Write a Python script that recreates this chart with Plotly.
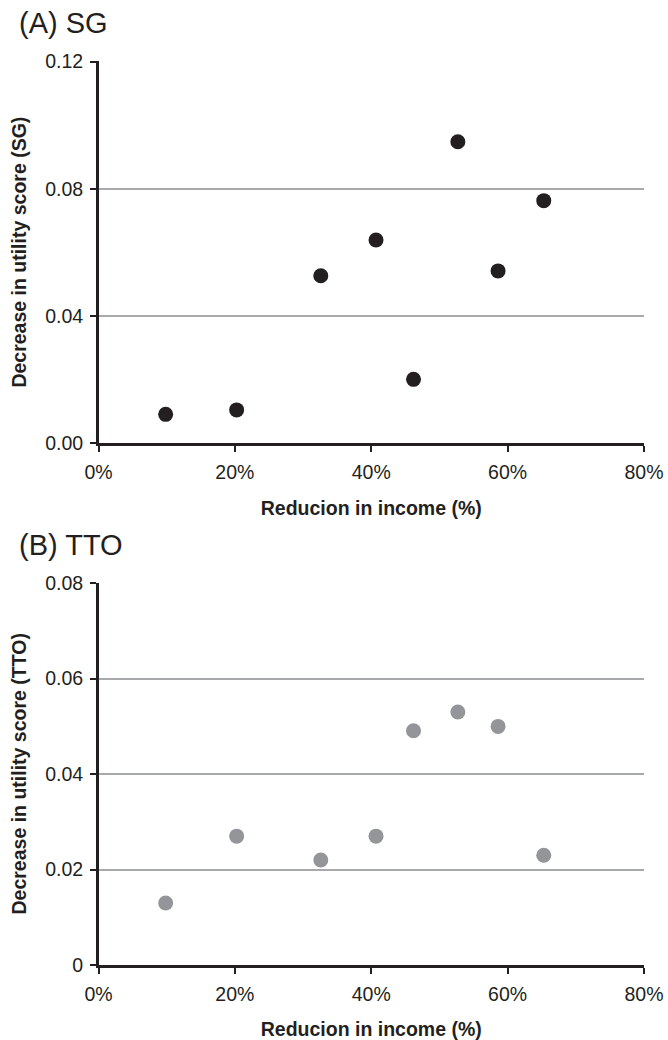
import plotly.graph_objects as go

# Data
income_reduction = [0.0985, 0.2026, 0.326, 0.407, 0.462, 0.527, 0.586, 0.653]
sg_decrease = [0.0091, 0.0105, 0.0527, 0.0639, 0.0201, 0.0948, 0.0542, 0.0763]
tto_decrease = [0.0130, 0.0270, 0.0220, 0.0270, 0.0491, 0.0530, 0.0500, 0.0230]

x_ticks = [0, 0.2, 0.4, 0.6, 0.8]
x_tick_labels = ["0%", "20%", "40%", "60%", "80%"]
sg_ticks = [0, 0.04, 0.08, 0.12]
sg_tick_labels = ["0.00", "0.04", "0.08", "0.12"]
tto_ticks = [0, 0.02, 0.04, 0.06, 0.08]
tto_tick_labels = ["0", "0.02", "0.04", "0.06", "0.08"]

W, H = 668, 1040
FONT = "Liberation Sans, Arial, sans-serif"
TEXT = "#231f20"
TICK_SIZE = 19.5
TITLE_SIZE = 19.5

fig = go.Figure()
fig.add_trace(go.Scatter(x=income_reduction, y=sg_decrease, mode="markers",
                         marker=dict(size=15, color="#231f20"), xaxis="x", yaxis="y",
                         showlegend=False))
fig.add_trace(go.Scatter(x=income_reduction, y=tto_decrease, mode="markers",
                         marker=dict(size=15, color="#939598"), xaxis="x2", yaxis="y2",
                         showlegend=False))

xdom = [98.5 / W, 644 / W]
top_dom = [1 - 443.3 / H, 1 - 61 / H]
bot_dom = [1 - 965 / H, 1 - 582.6 / H]

common_x = dict(range=[0, 0.8], tickvals=x_ticks, ticktext=x_tick_labels,
                showline=True, linecolor="#231f20", linewidth=2.5, ticks="outside",
                ticklen=6, tickwidth=2, tickcolor="#231f20", showgrid=False, zeroline=False,
                tickfont=dict(family=FONT, size=TICK_SIZE, color=TEXT), ticklabelstandoff=4,
                title=dict(text="<b>Reducion in income (%)</b>",
                           font=dict(family=FONT, size=TITLE_SIZE, color=TEXT), standoff=19),
                automargin=False, domain=xdom, fixedrange=True)
common_y = dict(showline=True, linecolor="#231f20", linewidth=2.5, ticks="outside",
                ticklen=6, tickwidth=2, tickcolor="#231f20", showgrid=True,
                gridcolor="#a7a9ac", gridwidth=2, zeroline=False,
                tickfont=dict(family=FONT, size=TICK_SIZE, color=TEXT), ticklabelstandoff=3,
                automargin=False, fixedrange=True)

fig.update_layout(
    width=W, height=H,
    margin=dict(l=0, r=0, t=0, b=0),
    paper_bgcolor="white", plot_bgcolor="white",
    xaxis=dict(**common_x, anchor="y"),
    xaxis2=dict(**common_x, anchor="y2"),
    yaxis=dict(**common_y, range=[0, 0.1202], tickvals=sg_ticks, ticktext=sg_tick_labels,
               domain=top_dom, anchor="x",
               title=dict(text="<b>Decrease in utility score (SG)</b>",
                          font=dict(family=FONT, size=TITLE_SIZE, color=TEXT), standoff=14)),
    yaxis2=dict(**common_y, range=[0, 0.08013], tickvals=tto_ticks, ticktext=tto_tick_labels,
                domain=bot_dom, anchor="x2",
                title=dict(text="<b>Decrease in utility score (TTO)</b>",
                           font=dict(family=FONT, size=TITLE_SIZE, color=TEXT), standoff=14)),
    annotations=[
        dict(text="(A) SG", x=17 / W, y=1 - 23 / H, xref="paper", yref="paper",
             xanchor="left", yanchor="middle", showarrow=False,
             font=dict(family=FONT, size=29, color=TEXT)),
        dict(text="(B) TTO", x=17 / W, y=1 - 545 / H, xref="paper", yref="paper",
             xanchor="left", yanchor="middle", showarrow=False,
             font=dict(family=FONT, size=29, color=TEXT)),
    ],
)

fig.write_html("out.html", config={"displayModeBar": False, "staticPlot": True},
               post_script="document.body.style.margin='0';")
